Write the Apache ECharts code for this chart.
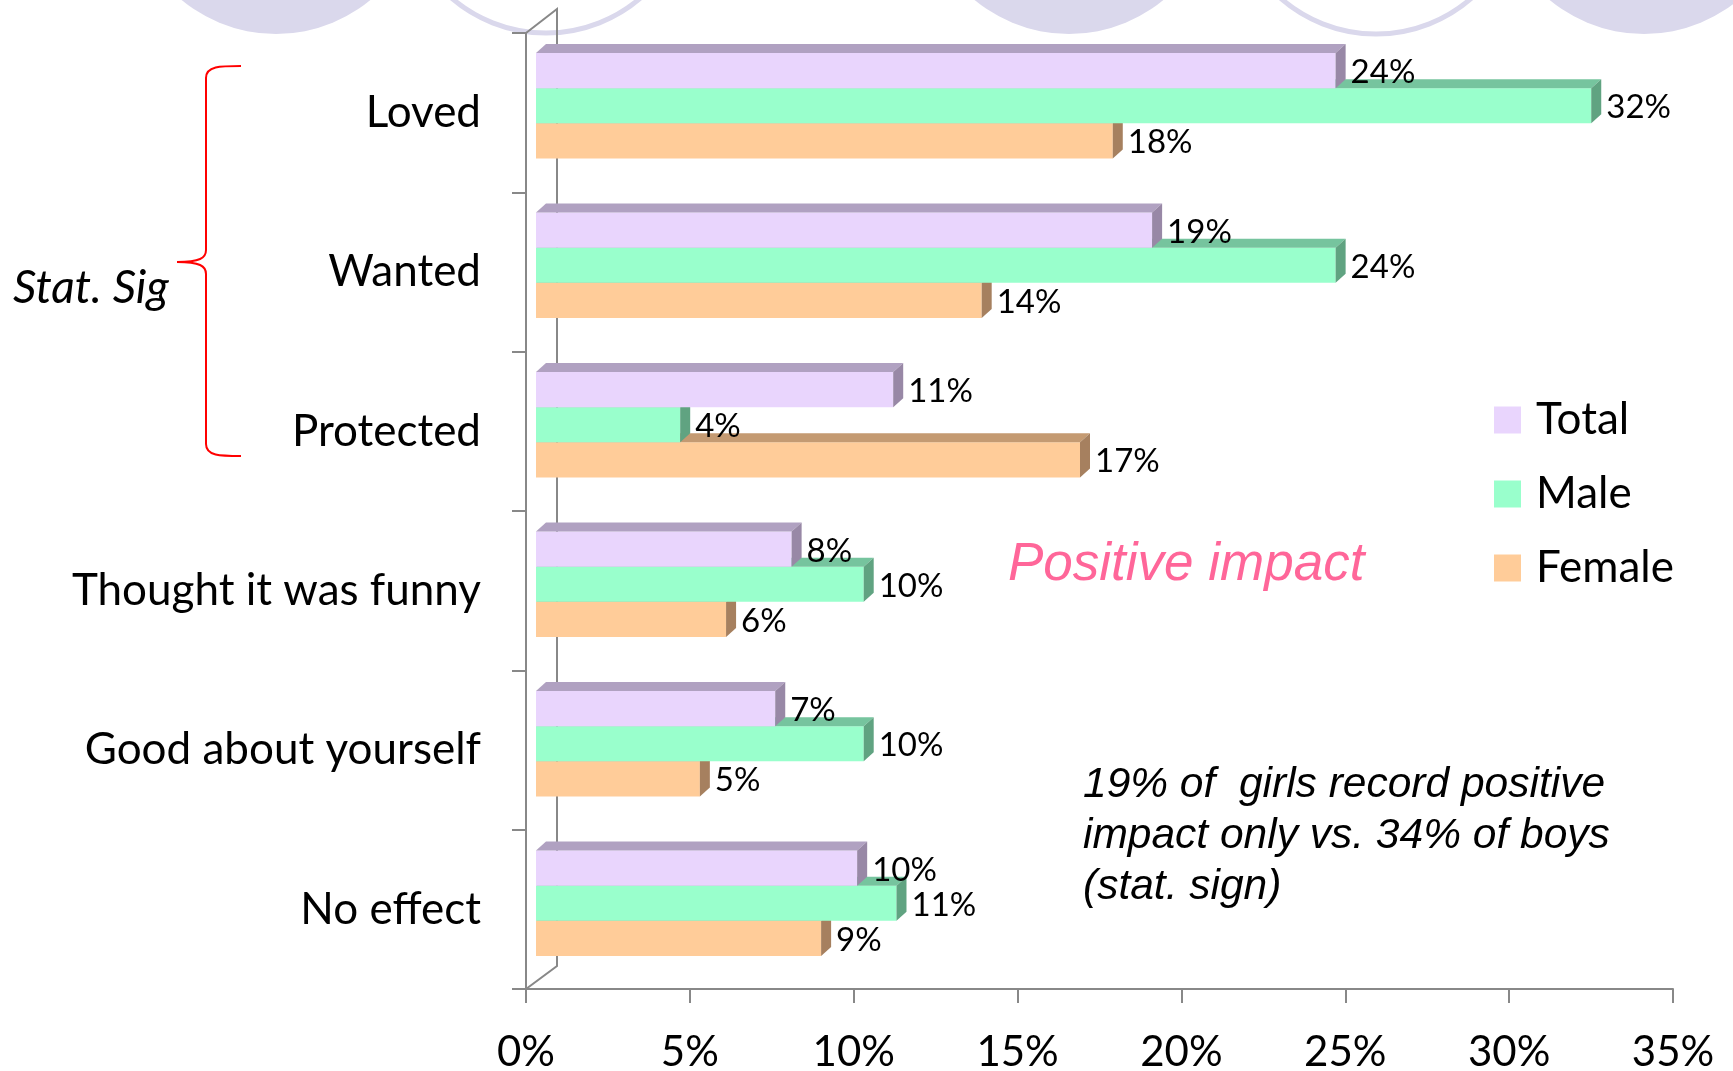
<!DOCTYPE html>
<html>
<head>
<meta charset="utf-8">
<script src="https://cdn.jsdelivr.net/npm/echarts@6/dist/echarts.min.js"></script>
<style>
html, body { margin: 0; padding: 0; background: #fff; }
#chart { width: 1733px; height: 1071px; }
</style>
</head>
<body>
<div id="chart"></div>
<script>
var categories = ['Loved', 'Wanted', 'Protected', 'Thought it was funny', 'Good about yourself', 'No effect'];
var totalValues = [24.4, 18.8, 10.9, 7.8, 7.3, 9.8];
var maleValues = [32.2, 24.4, 4.4, 10.0, 10.0, 11.0];
var femaleValues = [17.6, 13.6, 16.6, 5.8, 5.0, 8.7];
var xTicks = [0, 5, 10, 15, 20, 25, 30, 35];

// 3d depth of the bars
var DX = 10, DY = 9;
var axisGrey = '#888888';

function toData(values) {
    return values.map(function (v, i) { return [v, i]; });
}

function bar3d(k, colors) {
    return function (params, api) {
        var v = api.value(0), c = api.value(1);
        var p0 = api.coord([0, c]);
        var p1 = api.coord([v, c]);
        var band = api.size([0, 1])[1];
        var h = band * 0.22;
        var y0 = p0[1] - 1.5 * h + k * h;
        var y1 = y0 + h;
        var x0 = p0[0], x1 = p1[0];
        return {
            type: 'group',
            children: [
                { type: 'rect', shape: { x: x0, y: y0, width: x1 - x0, height: h }, style: { fill: colors[0] } },
                { type: 'polygon', shape: { points: [[x0, y0], [x0 + DX, y0 - DY], [x1 + DX, y0 - DY], [x1, y0]] }, style: { fill: colors[1] } },
                { type: 'polygon', shape: { points: [[x1, y0], [x1 + DX, y0 - DY], [x1 + DX, y1 - DY], [x1, y1]] }, style: { fill: colors[2] } },
                { type: 'text', style: { text: Math.round(v) + '%', x: x1 + DX + 5, y: (y0 + y1) / 2 + 2, verticalAlign: 'middle', font: '33px Lato', fill: '#000' } }
            ]
        };
    };
}

var braceStyle = { stroke: '#FF0000', lineWidth: 2, fill: null };

var myChart = echarts.init(document.getElementById('chart'));

var option = {
    backgroundColor: '#fff',
    animation: false,
    grid: [
        { left: 536, top: 26, width: 1147, height: 957, outerBoundsMode: 'none' },
        { left: 526, top: 33, width: 1147, height: 956, outerBoundsMode: 'none' }
    ],
    legend: {
        data: ['Total', 'Male', 'Female'],
        orient: 'vertical',
        left: 1494,
        top: 397,
        padding: 0,
        itemWidth: 27,
        itemHeight: 27,
        itemGap: 28,
        icon: 'rect',
        textStyle: { fontFamily: 'Lato', fontSize: 44, lineHeight: 46, color: '#000', padding: [0, 0, 0, 10] }
    },
    xAxis: [
        { gridIndex: 0, type: 'value', min: xTicks[0], max: xTicks[xTicks.length - 1], interval: xTicks[1] - xTicks[0], show: false },
        {
            gridIndex: 1, type: 'value', min: xTicks[0], max: xTicks[xTicks.length - 1], interval: xTicks[1] - xTicks[0],
            axisLine: { show: true, lineStyle: { color: axisGrey, width: 2 } },
            axisTick: { show: true, length: 14, lineStyle: { color: axisGrey, width: 2 } },
            splitLine: { show: false },
            axisLabel: { formatter: '{value}%', fontFamily: 'Lato', fontSize: 42, color: '#000', margin: 42 }
        }
    ],
    yAxis: [
        { gridIndex: 0, type: 'category', data: categories, inverse: true, show: false },
        {
            gridIndex: 1, type: 'category', data: categories, inverse: true,
            axisLine: { show: true, lineStyle: { color: axisGrey, width: 2 } },
            axisTick: { show: true, length: 14, lineStyle: { color: axisGrey, width: 2 } },
            axisLabel: { fontFamily: 'Lato', fontSize: 44, color: '#000', margin: 45, padding: [11, 0, 0, 0] }
        }
    ],
    series: [
        {
            name: 'Female', type: 'custom', xAxisIndex: 0, yAxisIndex: 0,
            itemStyle: { color: '#FFCC99' },
            encode: { x: 0, y: 1 },
            renderItem: bar3d(2, ['#FFCC99', '#C49A72', '#A6805F']),
            data: toData(femaleValues)
        },
        {
            name: 'Male', type: 'custom', xAxisIndex: 0, yAxisIndex: 0,
            itemStyle: { color: '#99FFCC' },
            encode: { x: 0, y: 1 },
            renderItem: bar3d(1, ['#99FFCC', '#76C49E', '#60A381']),
            data: toData(maleValues)
        },
        {
            name: 'Total', type: 'custom', xAxisIndex: 0, yAxisIndex: 0,
            itemStyle: { color: '#E9D5FD' },
            encode: { x: 0, y: 1 },
            renderItem: bar3d(0, ['#E9D5FD', '#B0A1C1', '#9888A6']),
            data: toData(totalValues)
        }
    ],
    graphic: [
        // slide background circles
        { type: 'circle', z: -1, shape: { cx: 276, cy: -114, r: 148 }, style: { fill: '#DAD8EC' } },
        { type: 'circle', z: -1, shape: { cx: 546, cy: -112, r: 145 }, style: { fill: '#fff', stroke: '#DAD8EC', lineWidth: 5 } },
        { type: 'circle', z: -1, shape: { cx: 1069, cy: -114, r: 148 }, style: { fill: '#DAD8EC' } },
        { type: 'circle', z: -1, shape: { cx: 1376, cy: -111, r: 145 }, style: { fill: '#fff', stroke: '#DAD8EC', lineWidth: 5 } },
        { type: 'circle', z: -1, shape: { cx: 1644, cy: -114, r: 148 }, style: { fill: '#DAD8EC' } },
        // side wall
        { type: 'polyline', shape: { points: [[526, 33], [557, 9], [557, 966], [526, 989]] }, style: { stroke: axisGrey, lineWidth: 2, fill: null } },
        // brace
        { type: 'bezierCurve', shape: { x1: 241, y1: 66, cpx1: 220, cpy1: 66, cpx2: 206, cpy2: 66, x2: 206, y2: 78 }, style: braceStyle },
        { type: 'line', shape: { x1: 206, y1: 78, x2: 206, y2: 250 }, style: braceStyle },
        { type: 'bezierCurve', shape: { x1: 206, y1: 250, cpx1: 206, cpy1: 258, cpx2: 200, cpy2: 262, x2: 177, y2: 262 }, style: braceStyle },
        { type: 'bezierCurve', shape: { x1: 177, y1: 262, cpx1: 200, cpy1: 262, cpx2: 206, cpy2: 266, x2: 206, y2: 274 }, style: braceStyle },
        { type: 'line', shape: { x1: 206, y1: 274, x2: 206, y2: 444 }, style: braceStyle },
        { type: 'bezierCurve', shape: { x1: 206, y1: 444, cpx1: 206, cpy1: 456, cpx2: 220, cpy2: 456, x2: 241, y2: 456 }, style: braceStyle },
        { type: 'text', style: { text: 'Stat. Sig', x: 13, y: 288, verticalAlign: 'middle', font: 'italic 46px Lato', fill: '#000' } },
        { type: 'text', style: { text: 'Positive impact', x: 1008, y: 565, verticalAlign: 'middle', font: 'italic 53px "Liberation Sans"', fill: '#FF6699' } },
        {
            type: 'text',
            style: {
                text: '19% of  girls record positive\nimpact only vs. 34% of boys\n(stat. sign)',
                x: 1083, y: 760, verticalAlign: 'top', font: 'italic 42.5px "Liberation Sans"', lineHeight: 51, fill: '#000'
            }
        }
    ]
};
myChart.setOption(option);
</script>
</body>
</html>
